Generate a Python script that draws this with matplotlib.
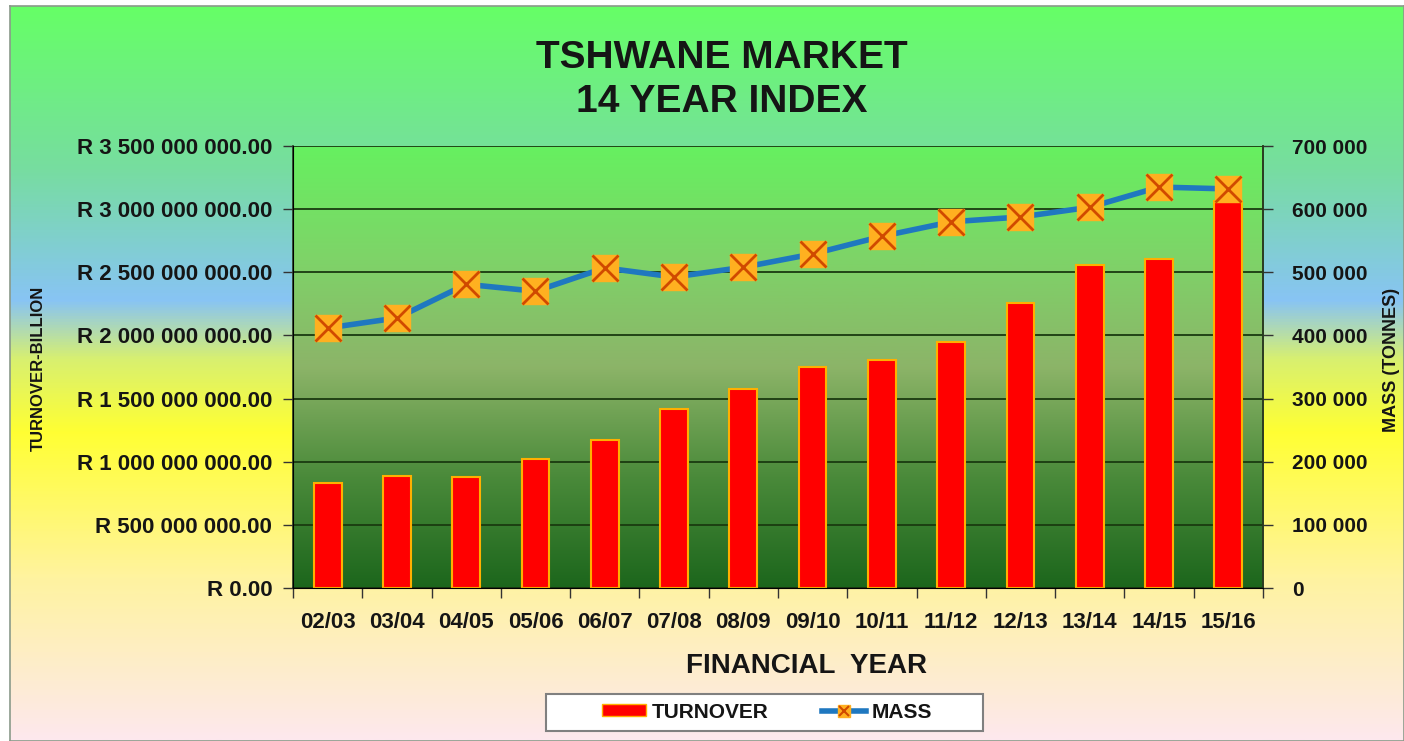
import numpy as np
import matplotlib
matplotlib.use("Agg")
import matplotlib.pyplot as plt
from matplotlib.colors import LinearSegmentedColormap
from matplotlib.lines import Line2D
from matplotlib.patches import Patch, Rectangle
from matplotlib.ticker import FuncFormatter, MultipleLocator

# Data
years = ["02/03", "03/04", "04/05", "05/06", "06/07", "07/08", "08/09",
         "09/10", "10/11", "11/12", "12/13", "13/14", "14/15", "15/16"]
turnover = [0.831e9, 0.887e9, 0.879e9, 1.021e9, 1.172e9, 1.417e9, 1.576e9,
            1.750e9, 1.805e9, 1.948e9, 2.257e9, 2.558e9, 2.605e9, 3.064e9]
mass = [411800, 427600, 481000, 470000, 507000, 492500, 508000,
        529000, 557000, 580000, 587600, 603000, 635000, 632000]

plt.rcParams['font.family'] = ['Liberation Sans', 'DejaVu Sans']
plt.rcParams['font.weight'] = 'bold'
txt = '#151515'
tick_fs = 16

W, H = 1404, 741
fig = plt.figure(figsize=(W / 100, H / 100), dpi=100, facecolor='white')

# outer chart background gradient
bg = fig.add_axes([10 / W, 0, 1 - 10 / W, (H - 6) / H], zorder=-10)
bg_cmap = LinearSegmentedColormap.from_list('fig_bg', [
    (0.00, '#fde8ee'),
    (0.22, '#fff3a0'),
    (0.42, '#ffff33'),
    (0.52, '#d8f070'),
    (0.60, '#88c4f4'),
    (0.78, '#77dda0'),
    (1.00, '#66ff66'),
])
bg.imshow(np.linspace(0, 1, 512).reshape(-1, 1), cmap=bg_cmap, origin='lower',
          aspect='auto', extent=[0, 1, 0, 1])
bg.set_xticks([])
bg.set_yticks([])
for s in bg.spines.values():
    s.set_color('#8a9a8a')
    s.set_linewidth(1.2)

# main axes
ax = fig.add_axes([293 / W, (H - 588) / H, 970 / W, 442 / H])
ax.set_facecolor('none')
x = np.arange(len(years))
ymax = 3.5e9

plot_cmap = LinearSegmentedColormap.from_list('plot_bg', [
    (0.00, '#1c661c'),
    (0.25, '#4a8a3a'),
    (0.50, '#8cb468'),
    (0.75, '#7ed468'),
    (1.00, '#66f060'),
])
ax.imshow(np.linspace(0, 1, 256).reshape(-1, 1), cmap=plot_cmap, origin='lower',
          aspect='auto', extent=[-0.5, len(years) - 0.5, 0, ymax], zorder=0)

ax.bar(x, turnover, width=0.4, color='#ff0000', edgecolor='#ffb000',
       linewidth=1.5, zorder=3)

ax.set_xlim(-0.5, len(years) - 0.5)
ax.set_ylim(0, ymax)
ax.yaxis.set_major_locator(MultipleLocator(5e8))
ax.yaxis.set_major_formatter(FuncFormatter(
    lambda v, p: 'R ' + '{:,.2f}'.format(v).replace(',', ' ')))
ax.grid(axis='y', color='#1a3a10', linewidth=1.3, zorder=1)
ax.set_axisbelow(False)
ax.set_xticks(x)
ax.set_xticklabels(years)
ax.set_xticks(np.arange(-0.5, len(years)), minor=True)
ax.tick_params(axis='x', which='major', length=0, pad=17, labelsize=tick_fs,
               labelcolor=txt)
ax.tick_params(axis='x', which='minor', length=7, width=1, color='#333333')
ax.tick_params(axis='y', length=7, width=1, color='#333333', labelsize=tick_fs,
               labelcolor=txt, pad=8)
ax.spines['top'].set_visible(False)
for side in ['left', 'bottom', 'right']:
    ax.spines[side].set_color('#2a3a20')
    ax.spines[side].set_linewidth(1.2)

fig.text(806 / W, 1 - 673 / H, 'FINANCIAL  YEAR', fontsize=20, color=txt,
         ha='center', va='baseline')
fig.text(38 / W, 1 - 368 / H, 'TURNOVER-BILLION', rotation=90, fontsize=12,
         color=txt, ha='center', va='center')

# mass on the secondary axis
ax2 = ax.twinx()
ax2.set_ylim(0, 700000)
ax2.yaxis.set_major_locator(MultipleLocator(100000))
ax2.yaxis.set_major_formatter(FuncFormatter(
    lambda v, p: '{:,.0f}'.format(v).replace(',', ' ')))
ax2.tick_params(axis='y', length=7, width=1, color='#333333', labelsize=15,
                labelcolor=txt, pad=14)
ax2.spines['top'].set_visible(False)
ax2.spines['right'].set_color('#2a3a20')
ax2.spines['right'].set_linewidth(1.2)
ax2.plot(x, mass, color='#1f78c0', linewidth=4, zorder=4)
ax2.plot(x, mass, linestyle='none', marker='s', markersize=19,
         markerfacecolor='#ffb020', markeredgecolor='#ffb020', zorder=5)
ax2.plot(x, mass, linestyle='none', marker='x', markersize=19,
         markeredgecolor='#d04a00', markeredgewidth=2, zorder=6)
fig.text(1391 / W, 1 - 360 / H, 'MASS (TONNES)', rotation=90, fontsize=13,
         color=txt, ha='center', va='center')

# title
fig.text(721.5 / W, 1 - 68 / H, 'TSHWANE MARKET', fontsize=28,
         color=txt, ha='center', va='baseline')
fig.text(721.5 / W, 1 - 112 / H, '14 YEAR INDEX', fontsize=28,
         color=txt, ha='center', va='baseline')

# legend box drawn by hand, entries from fig.legend without frame
fig.patches.append(Rectangle((546 / W, 1 - 731 / H), 437 / W, 37 / H,
                             transform=fig.transFigure, facecolor='white',
                             edgecolor='#808080', linewidth=1.5, zorder=5))
h_turn = Patch(facecolor='#ff0000', edgecolor='#ffb000', linewidth=1)
h_mass = (Line2D([], [], color='#1f78c0', linewidth=4, marker='s',
                 markersize=9, markerfacecolor='#ffb020',
                 markeredgecolor='#ffb020'),
          Line2D([], [], linestyle='none', marker='x', markersize=7,
                 markeredgecolor='#d04a00', markeredgewidth=1.5))
leg = fig.legend([h_turn, h_mass], ['TURNOVER', 'MASS'], loc='center',
                 bbox_to_anchor=(767 / W, 1 - 712 / H), ncol=2,
                 fontsize=15, frameon=False,
                 handlelength=2.1, handleheight=0.55, columnspacing=2.6,
                 borderpad=0.2, handletextpad=0.25)
leg.set_zorder(6)
for t in leg.get_texts():
    t.set_color(txt)

fig.savefig('out.png', dpi=100, facecolor=fig.get_facecolor())
